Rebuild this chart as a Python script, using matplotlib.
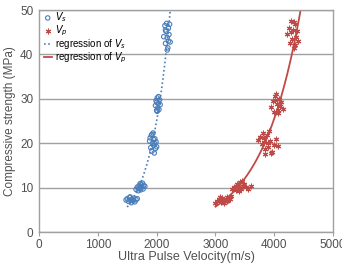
import numpy as np
import matplotlib
matplotlib.use('Agg')
import matplotlib.pyplot as plt

plt.rcParams['font.family'] = ['Liberation Sans', 'DejaVu Sans']

# S-wave velocity (m/s) and strength (MPa)
vs_v = [1480, 1500, 1520, 1540, 1560, 1570, 1580, 1600, 1610, 1630, 1650, 1670, 1550, 1590,
        1650, 1670, 1690, 1700, 1720, 1730, 1740, 1750, 1760, 1780, 1700, 1720, 1770, 1800,
        1880, 1900, 1910, 1920, 1930, 1940, 1950, 1960, 1970, 1980, 1990, 2000, 1920, 1950, 1890, 1970,
        1980, 1990, 2000, 2010, 2020, 2030, 2040, 2050, 2060, 2010, 2030, 2000,
        2120, 2140, 2150, 2160, 2170, 2180, 2190, 2200, 2210, 2220, 2230, 2150, 2180, 2200]
vs_s = [7.2, 7.5, 6.9, 7.8, 7.1, 6.6, 7.4, 7.0, 7.6, 6.8, 7.3, 7.5, 7.9, 7.2,
        9.6, 10.1, 9.3, 10.4, 10.0, 9.5, 10.7, 10.2, 11.0, 10.5, 9.8, 10.9, 9.7, 10.3,
        20.5, 19.0, 21.8, 18.2, 20.0, 22.3, 19.5, 17.8, 21.0, 18.8, 20.3, 19.2, 22.0, 20.8, 21.2, 19.9,
        28.5, 29.6, 27.4, 30.2, 28.0, 29.0, 27.6, 29.8, 28.7, 27.2, 30.5, 29.2,
        44.0, 46.5, 42.5, 45.2, 47.0, 43.8, 41.5, 45.9, 44.5, 46.8, 42.8, 45.5, 41.0, 43.0]

# P-wave velocity (m/s) and strength (MPa)
vp_v = [3000, 3030, 3060, 3090, 3110, 3140, 3160, 3190, 3210, 3240, 3270, 3080, 3150, 3200, 3120,
        3280, 3320, 3350, 3380, 3400, 3420, 3440, 3460, 3490, 3520, 3560, 3600, 3400, 3450, 3360,
        3720, 3760, 3790, 3810, 3830, 3850, 3870, 3890, 3910, 3930, 3960, 3990, 4030, 4060, 3850, 3900, 3820, 3950,
        3950, 3980, 4000, 4020, 4040, 4060, 4080, 4100, 4120, 4150, 4010, 4070, 4030,
        4220, 4250, 4270, 4290, 4300, 4320, 4340, 4350, 4370, 4390, 4410, 4280, 4330, 4360]
vp_s = [6.5, 7.0, 7.4, 6.8, 7.6, 7.2, 6.9, 7.8, 7.3, 7.5, 8.0, 7.9, 6.6, 7.0, 7.3,
        9.6, 10.2, 9.4, 10.6, 10.0, 11.2, 9.8, 10.4, 10.9, 10.1, 9.7, 10.3, 9.2, 11.5, 10.8,
        20.8, 21.5, 19.8, 22.3, 20.2, 18.6, 21.8, 19.2, 22.8, 20.5, 18.0, 19.6, 21.0, 19.4, 17.6, 20.0, 21.2, 17.8,
        28.2, 29.5, 27.0, 30.6, 28.8, 27.5, 30.0, 28.4, 29.2, 27.8, 29.8, 26.8, 31.0,
        44.5, 46.0, 42.5, 47.5, 43.5, 45.5, 41.5, 46.8, 44.0, 45.2, 43.0, 45.0, 47.2, 42.2]

vs_range = [1500, 2260]
vp_range = [3000, 4460]

blue = '#4a7ebb'
red = '#be4b48'
grey = '#505050'

fig = plt.figure(figsize=(3.42, 2.65), dpi=100)
ax = fig.add_axes([0.114, 0.1245, 0.86, 0.8375])

# exponential regression: ln(S) = b*V + a
bs, as_ = np.polyfit(vs_v, np.log(vs_s), 1)
bp, ap = np.polyfit(vp_v, np.log(vp_s), 1)
xs = np.linspace(vs_range[0], vs_range[1], 200)
xp = np.linspace(vp_range[0], vp_range[1], 200)

ax.scatter(vs_v, vs_s, s=10, facecolors='none', edgecolors=blue, linewidths=0.8,
           label='$V_s$', zorder=3)
ax.scatter(vp_v, vp_s, s=12, marker=(6, 2, 0), color=red, linewidths=0.8,
           label='$V_p$', zorder=3)
ax.plot(xs, np.exp(as_ + bs * xs), color=blue, linestyle=(0, (1, 1.5)), linewidth=1.2,
        label='regression of $V_s$', zorder=2)
ax.plot(xp, np.exp(ap + bp * xp), color=red, linewidth=1.3,
        label='regression of $V_p$', zorder=2)

ax.set_xlim(0, 5000)
ax.set_ylim(0, 50)
ax.set_xticks([0, 1000, 2000, 3000, 4000, 5000])
ax.set_yticks([0, 10, 20, 30, 40, 50])
ax.yaxis.grid(True, color='#a0a0a0', linewidth=1)
ax.set_axisbelow(True)
for sp in ax.spines.values():
    sp.set_color('#a0a0a0')
    sp.set_linewidth(1)
ax.tick_params(axis='both', colors='#a0a0a0', labelcolor=grey, labelsize=8.5, length=3)
ax.tick_params(axis='x', pad=2)
ax.tick_params(axis='y', length=0, pad=4)

ax.set_xlabel('Ultra Pulse Velocity(m/s)', fontsize=9, color=grey, labelpad=0)
ax.set_ylabel('Compressive strength (MPa)', fontsize=8.5, color=grey, labelpad=3)

ax.legend(loc='upper left', frameon=False, fontsize=7, handlelength=0.8,
          handletextpad=0.3, labelspacing=-0.08, borderaxespad=0.1,
          bbox_to_anchor=(0.0, 1.02))

fig.savefig('out.png', dpi=100)
